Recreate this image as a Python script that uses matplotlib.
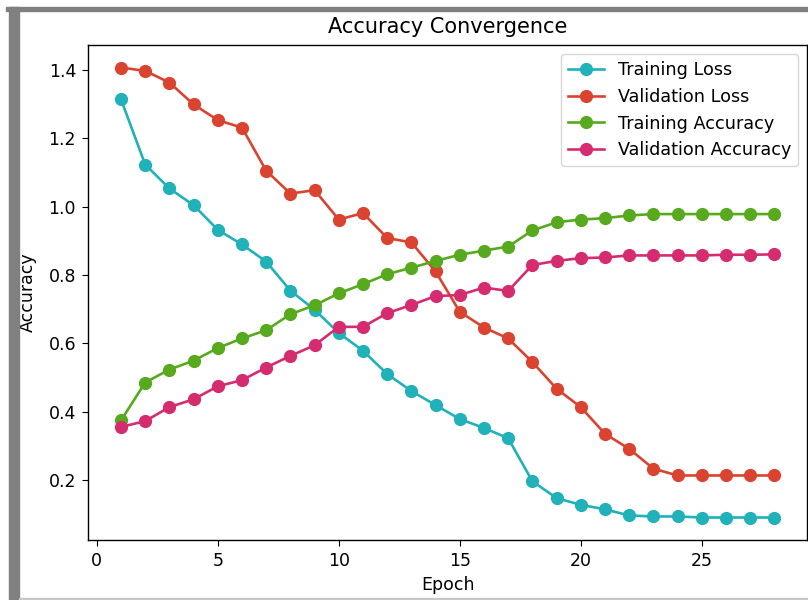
import matplotlib
matplotlib.use("Agg")
import matplotlib.pyplot as plt
from matplotlib.patches import Rectangle

epochs = list(range(1, 29))
training_loss = [1.314, 1.123, 1.053, 1.004, 0.932, 0.889, 0.839, 0.754, 0.698, 0.630,
                 0.578, 0.510, 0.460, 0.419, 0.378, 0.352, 0.322, 0.196, 0.147, 0.127,
                 0.114, 0.096, 0.093, 0.093, 0.090, 0.090, 0.090, 0.090]
validation_loss = [1.407, 1.397, 1.363, 1.299, 1.253, 1.231, 1.105, 1.038, 1.048, 0.962,
                   0.981, 0.908, 0.895, 0.810, 0.692, 0.646, 0.614, 0.545, 0.467, 0.413,
                   0.335, 0.291, 0.233, 0.213, 0.213, 0.213, 0.213, 0.213]
training_accuracy = [0.374, 0.485, 0.523, 0.549, 0.586, 0.614, 0.638, 0.685, 0.711, 0.746,
                     0.773, 0.802, 0.821, 0.841, 0.859, 0.871, 0.883, 0.930, 0.954, 0.962,
                     0.966, 0.974, 0.978, 0.978, 0.978, 0.978, 0.978, 0.978]
validation_accuracy = [0.355, 0.372, 0.413, 0.436, 0.474, 0.492, 0.529, 0.563, 0.594, 0.648,
                       0.648, 0.688, 0.712, 0.738, 0.741, 0.763, 0.753, 0.829, 0.841, 0.849,
                       0.851, 0.857, 0.857, 0.857, 0.857, 0.859, 0.859, 0.860]

series = [
    ("Training Loss", training_loss, "#20b1b9"),
    ("Validation Loss", validation_loss, "#d9432f"),
    ("Training Accuracy", training_accuracy, "#57a91e"),
    ("Validation Accuracy", validation_accuracy, "#d42c6f"),
]

plt.rcParams.update({
    "font.size": 12.5,
    "xtick.major.size": 4.4,
    "ytick.major.size": 4.4,
    "xtick.major.pad": 4.4,
    "ytick.major.pad": 4.4,
    "axes.linewidth": 1.0,
})

fig = plt.figure(figsize=(8.08, 6.0), dpi=100)
ax = fig.add_axes([0.1093, 0.1, 0.8895, 0.825])

for name, vals, col in series:
    ax.plot(epochs, vals, marker="o", markersize=8.5, linewidth=1.9, color=col, label=name)

ax.set_title("Accuracy Convergence", fontsize=15, pad=8.5)
ax.set_xlabel("Epoch", fontsize=12.5, labelpad=4)
ax.set_ylabel("Accuracy", fontsize=12.5, labelpad=8)
ax.set_xticks([0, 5, 10, 15, 20, 25])
ax.set_yticks([0.2, 0.4, 0.6, 0.8, 1.0, 1.2, 1.4])
ax.tick_params(labelsize=12.5)
ax.legend(loc="upper right", fontsize=12.7)

# screenshot frame artifacts
fig.patches.append(Rectangle((6 / 808, 1 - 11 / 600), 802 / 808, 4 / 600,
                             transform=fig.transFigure, color="#808080", zorder=10))
fig.patches.append(Rectangle((9 / 808, 0), 10 / 808, 1 - 7 / 600,
                             transform=fig.transFigure, color="#808080", zorder=10))
fig.patches.append(Rectangle((19 / 808, 0), 789 / 808, 2 / 600,
                             transform=fig.transFigure, color="#c8c8c8", zorder=10))

fig.savefig("out.png", dpi=100)
